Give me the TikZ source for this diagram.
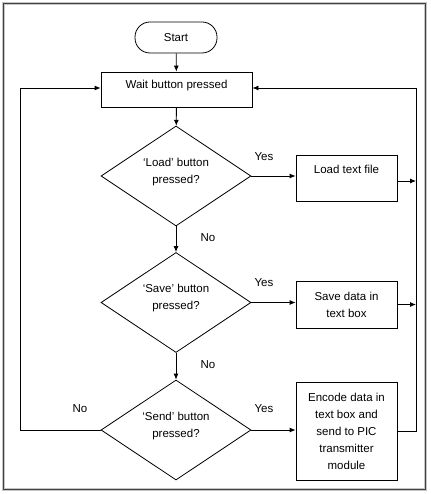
\documentclass[tikz,border=0pt]{standalone}
\usepackage{fontspec}
\setmainfont{Liberation Sans}
\usetikzlibrary{shapes.geometric,arrows.meta}
\tikzset{
  base/.style={draw=black, line width=0.8pt, font=\fontsize{11.5}{17}\selectfont, align=center, inner sep=0pt},
  term/.style={base, rectangle, rounded corners=15pt, minimum width=82pt, minimum height=31pt},
  proc/.style={base, rectangle, minimum width=101pt},
  dec/.style={base, diamond, aspect=1.5, minimum width=150pt, minimum height=100pt, text height=26pt, text depth=11.6pt},
  lbl/.style={font=\fontsize{11.5}{17}\selectfont, inner sep=0pt},
  arr/.style={line width=0.8pt, -{Latex[length=6pt,width=5pt]}},
  ln/.style={line width=0.8pt}
}
\begin{document}
\begin{tikzpicture}[x=1pt,y=-1pt]
\useasboundingbox (0,0) rectangle (430,494);
\draw[gray!45, line width=3pt] (3.5,3.5) rectangle (425.5,489.5);
\draw[black!75, line width=1.3pt] (3.5,3.5) rectangle (425.5,489.5);

\node[term] (start) at (176,37.5) {Start};
\node[base, rectangle, minimum width=151pt, text height=16.2pt, text depth=18.8pt] (wait) at (176.5,89.5) {Wait button pressed};
\node[dec] (d1) at (176,176) {‘Load’ button\\pressed?};
\node[dec] (d2) at (176,302.5) {‘Save’ button\\pressed?};
\node[dec] (d3) at (176,430) {‘Send’ button\\pressed?};
\node[proc, text height=18.2pt, text depth=27.8pt] (load) at (346.5,178) {Load text file};
\node[proc, minimum height=47pt] (save) at (346.5,304.5) {Save data in\\text box};
\node[proc, minimum height=98pt] (enc) at (346.5,431) {Encode data in\\text box and\\send to PIC\\transmitter\\module};

\coordinate (rtop) at (416,88);
\coordinate (ltop) at (20,88);

\draw[arr] (start) -- (wait);
\draw[arr] (wait) -- (d1);
\draw[arr] (d1) -- (d2);
\draw[arr] (d2) -- (d3);
\draw[arr] (d1.east) -- (d1.east -| load.west);
\draw[arr] (d2.east) -- (d2.east -| save.west);
\draw[arr] (d3.east) -- (d3.east -| enc.west);
\draw[arr] ([yshift=-3pt]load.east) -- ([yshift=-3pt]load.east -| rtop);
\draw[arr] (save.east) -- (save.east -| rtop);
\draw[arr] (enc.east) -| (rtop) -- (rtop -| wait.east);
\draw[arr] (d3.west) -| (ltop) -- (ltop -| wait.west);

\node[lbl] (y1) at (264,157) {Yes};
\node[lbl] (y2) at (264,283) {Yes};
\node[lbl] (y3) at (264,409) {Yes};
\node[lbl] (n1) at (208,238) {No};
\node[lbl] (n2) at (208,365) {No};
\node[lbl] (n3) at (80,409) {No};
\end{tikzpicture}
\end{document}
